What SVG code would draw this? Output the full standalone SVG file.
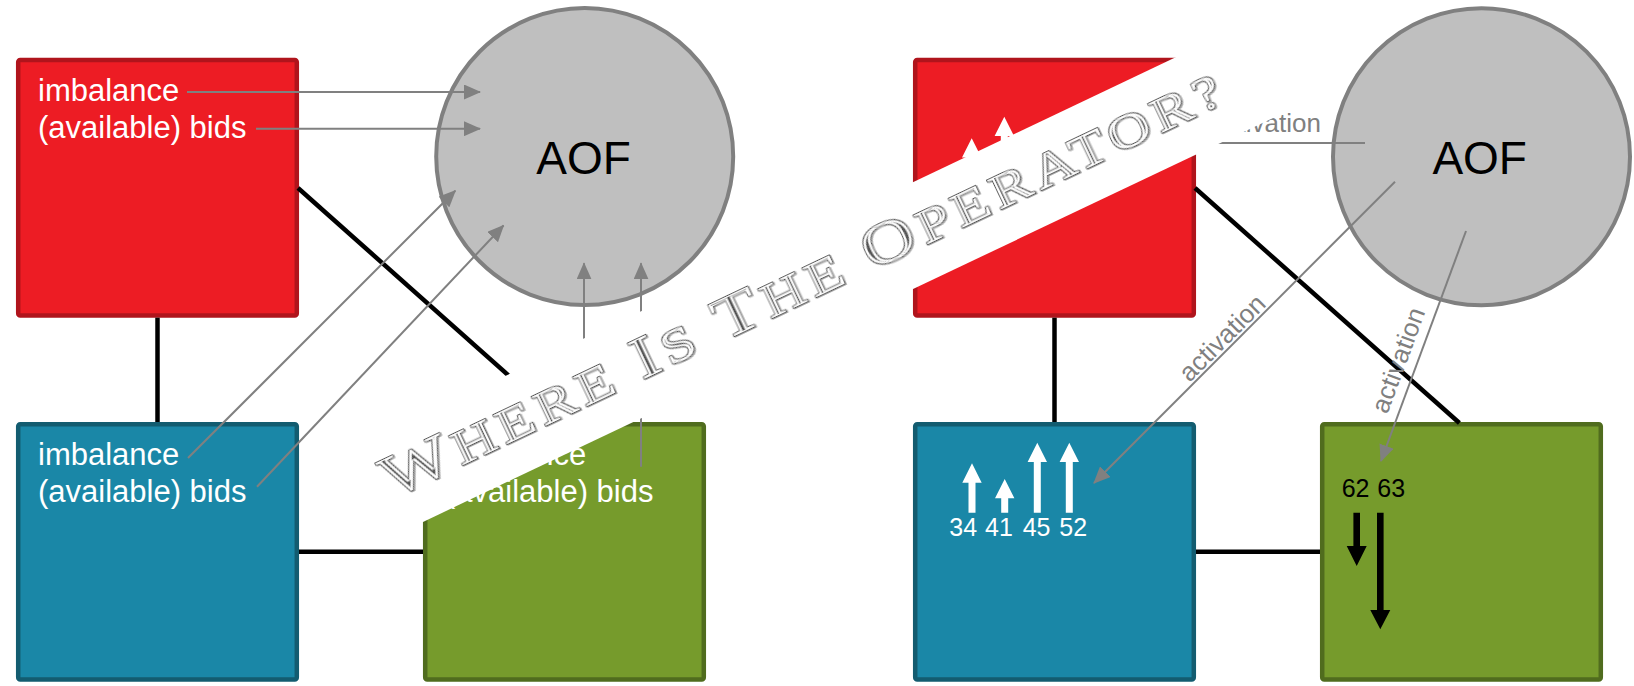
<svg xmlns="http://www.w3.org/2000/svg" width="1634" height="686" viewBox="0 0 1634 686">
<defs>
<style>
.red{fill:#ED1C24;stroke:#B0141C;stroke-width:4.5}
.blue{fill:#1A87A7;stroke:#135C70;stroke-width:4.5}
.green{fill:#769B2C;stroke:#506C1E;stroke-width:4.5}
.aof{fill:#BFBFBF;stroke:#808080;stroke-width:4}
.aoft{font-family:"Liberation Sans",Arial,sans-serif;font-size:46px;fill:#000;text-anchor:middle}
.lbl{font-family:"Liberation Sans",Arial,sans-serif;font-size:31px;fill:#fff}
.num{font-family:"Liberation Sans",Arial,sans-serif;font-size:25px}
.act{font-family:"Liberation Sans",Arial,sans-serif;font-size:26px;fill:#808080}
.link{stroke:#000;stroke-width:4.5;fill:none}
.flow{stroke:#808080;stroke-width:2;fill:none;marker-end:url(#ah)}
.line{stroke:#808080;stroke-width:2;fill:none}
.wa{fill:#fff}
.ba{fill:#000}
.ban{font-family:"Liberation Serif","Times New Roman",serif;font-size:48px;fill:#000}
.cap{font-size:60px}
</style>
<marker id="ah" markerUnits="userSpaceOnUse" markerWidth="17" markerHeight="15" refX="16" refY="7.5" orient="auto" viewBox="0 0 17 15"><path d="M0,0 L17,7.5 L0,15 z" fill="#808080"/></marker>
<filter id="engrave" x="-5%" y="-40%" width="110%" height="180%">
<feMorphology in="SourceAlpha" operator="dilate" radius="0.8" result="dil"/>
<feComposite in="dil" in2="SourceAlpha" operator="out" result="ring"/>
<feMorphology in="SourceAlpha" operator="erode" radius="1.4" result="ero"/>
<feOffset in="dil" dx="1" dy="1" result="sh"/>
<feFlood flood-color="#a8a8a8" result="c1"/>
<feComposite in="c1" in2="sh" operator="in" result="shadow"/>
<feFlood flood-color="#ffffff" result="cw"/>
<feComposite in="cw" in2="dil" operator="in" result="white"/>
<feMerge result="lines"><feMergeNode in="ring"/><feMergeNode in="ero"/></feMerge>
<feFlood flood-color="#555555" result="c2"/>
<feComposite in="c2" in2="lines" operator="in" result="dark"/>
<feMerge><feMergeNode in="shadow"/><feMergeNode in="white"/><feMergeNode in="dark"/></feMerge>
</filter>
</defs>
<rect width="1634" height="686" fill="#fff"/>

<g id="left-red">
<rect class="red" x="18.2" y="60" width="278.6" height="255.4" rx="2"/>
<text class="lbl" x="38" y="100.7">imbalance</text>
<text class="lbl" x="38" y="137.7">(available) bids</text>
</g>
<g id="left-blue">
<rect class="blue" x="18.2" y="424.2" width="278.6" height="255.4" rx="2"/>
<text class="lbl" x="38" y="465">imbalance</text>
<text class="lbl" x="38" y="502">(available) bids</text>
</g>
<g id="left-green">
<rect class="green" x="425.2" y="424.2" width="278.6" height="255.4" rx="2"/>
<text class="lbl" x="445" y="465">imbalance</text>
<text class="lbl" x="445" y="502">(available) bids</text>
</g>
<g id="left-aof">
<circle class="aof" cx="584.7" cy="156.5" r="148.5"/>
<text class="aoft" x="583.5" y="174">AOF</text>
</g>

<g id="right-red">
<rect class="red" x="915.2" y="60" width="278.6" height="255.4" rx="2"/>
<path class="wa" d="M971.7,138.3 L981.4,157.6 L975.2,157.6 L975.2,200 L968.2,200 L968.2,157.6 L962,157.6 Z"/>
<path class="wa" d="M1004.3,116.7 L1014,136 L1007.8,136 L1007.8,200 L1000.8,200 L1000.8,136 L994.6,136 Z"/>
</g>
<g id="right-blue">
<rect class="blue" x="915.2" y="424.2" width="278.6" height="255.4" rx="2"/>
<path class="wa" d="M972,463.3 L981.7,482.7 L975.5,482.7 L975.5,512.7 L968.5,512.7 L968.5,482.7 L962.3,482.7 Z"/>
<path class="wa" d="M1004.7,479 L1014.4,498.3 L1008.2,498.3 L1008.2,512.7 L1001.2,512.7 L1001.2,498.3 L995,498.3 Z"/>
<path class="wa" d="M1037.3,442.7 L1047,462 L1040.8,462 L1040.8,512.7 L1033.8,512.7 L1033.8,462 L1027.6,462 Z"/>
<path class="wa" d="M1069.3,442.7 L1079,462 L1072.8,462 L1072.8,512.7 L1065.8,512.7 L1065.8,462 L1059.6,462 Z"/>
<text class="num" fill="#fff" y="536"><tspan x="949.3">34</tspan> <tspan x="985">41</tspan> <tspan x="1022.7">45</tspan> <tspan x="1059.3">52</tspan></text>
</g>
<g id="right-green">
<rect class="green" x="1322.2" y="424.2" width="278.6" height="255.4" rx="2"/>
<text class="num" fill="#000" y="497.3"><tspan x="1341.7">62</tspan> <tspan x="1377.3">63</tspan></text>
<path class="ba" d="M1353.4,512.7 L1360,512.7 L1360,546 L1366.7,546 L1356.7,566 L1346.7,546 L1353.4,546 Z"/>
<path class="ba" d="M1377,512.7 L1383.6,512.7 L1383.6,610 L1390.3,610 L1380.3,629.3 L1370.3,610 L1377,610 Z"/>
</g>
<g id="right-aof">
<circle class="aof" cx="1481.5" cy="156.7" r="148.5"/>
<text class="aoft" x="1479.7" y="174">AOF</text>
</g>

<g id="connectors">
<path class="link" d="M157.5,317.7 V422"/>
<path class="link" d="M299,551.7 H423"/>
<path class="link" d="M298,188 L562,423"/>
<path class="link" d="M1054.5,317.7 V422"/>
<path class="link" d="M1196,551.7 H1320"/>
<path class="link" d="M1195,188 L1459.4,423"/>
<path class="flow" d="M187,92 H480"/>
<path class="flow" d="M256,128.7 H480"/>
<path class="flow" d="M188,458 L455.3,190.7"/>
<path class="flow" d="M257,486.7 L503.5,225.5"/>
<path class="flow" d="M584,440 V263.3"/>
<path class="flow" d="M641,466.7 V263.3"/>
<path class="line" d="M1365,143 H1197"/>
<path class="flow" d="M1395,181.7 L1094,483"/>
<path class="flow" d="M1466,231 L1381,461"/>
<text class="act" x="1321" y="132.3" text-anchor="end">activation</text>
<text class="act" text-anchor="middle" transform="translate(1228.4,344.1) rotate(-45)">activation</text>
<text class="act" text-anchor="middle" transform="translate(1406.4,363.3) rotate(-69.7)">activation</text>
</g>

<g id="banner" transform="translate(583.9,392) rotate(-25.42)">
<rect x="-240" y="-48.3" width="1020" height="96.6" fill="#fff"/>
<text class="ban" transform="scale(1.25,1)" x="-175.2" y="14" textLength="738.4" lengthAdjust="spacing" filter="url(#engrave)"><tspan class="cap">W</tspan>HERE <tspan class="cap">I</tspan>S <tspan class="cap">T</tspan>HE <tspan class="cap">O</tspan>PERATOR?</text>
</g>
</svg>
